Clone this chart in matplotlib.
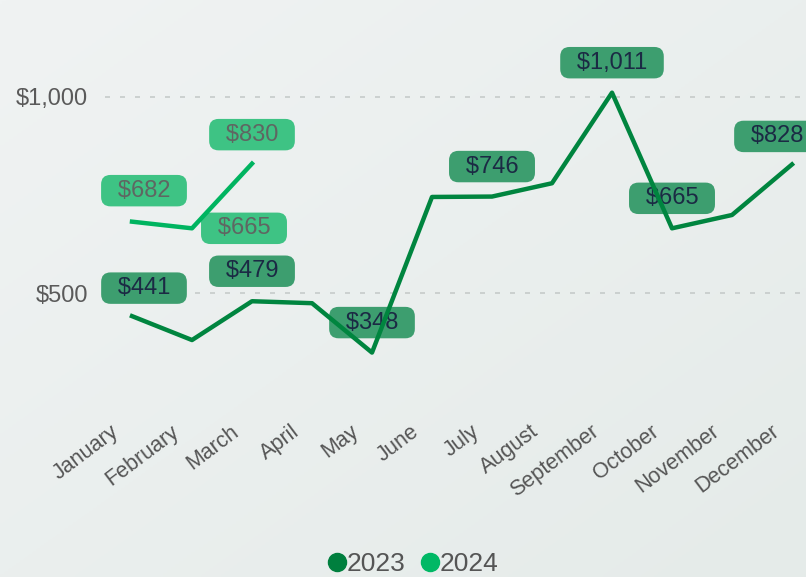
import numpy as np
import matplotlib.pyplot as plt
from matplotlib.lines import Line2D
from matplotlib.colors import LinearSegmentedColormap
from matplotlib.transforms import ScaledTranslation

plt.rcParams['font.family'] = ['Liberation Sans', 'DejaVu Sans']

# Data
months = ['January', 'February', 'March', 'April', 'May', 'June', 'July',
          'August', 'September', 'October', 'November', 'December']
sales_2023 = [441, 380, 479, 474, 348, 745, 746, 780, 1011, 665, 699, 828]
sales_2024 = [682, 665, 830]
labeled_2023 = [0, 2, 4, 6, 8, 9, 11]
labeled_2024 = [0, 1, 2]
ytick_vals = [500, 1000]
ytick_text = ['$500', '$1,000']

# Colours
c23 = '#00853f'
c24 = '#00b460'
box23 = '#3d9e6f'
box24 = '#3ec384'
txt23 = '#1b2a44'
txt24 = '#5f6662'

# label offsets in pixels (dx, dy), default is straight above
default_off = (0, 30)
offsets_2023 = {0: (12, 28), 11: (-15, 28)}
offsets_2024 = {0: (12, 31), 1: (52, 0), 2: (0, 29)}

fig = plt.figure(figsize=(8.06, 5.77), dpi=100)

# gradient background
bg = fig.add_axes([0, 0, 1, 1], zorder=-5)
gx, gy = np.meshgrid(np.linspace(0, 1, 200), np.linspace(0, 1, 200))
grad = (gx + gy) / 2
cmap = LinearSegmentedColormap.from_list('bg', ['#f0f3f3', '#e5ebe9'])
bg.imshow(grad, cmap=cmap, aspect='auto', extent=[0, 1, 0, 1], origin='upper')
bg.axis('off')

W, H = 806, 577
ax = fig.add_axes([105 / W, 167 / H, (W - 105) / W, (557 - 167) / H])
ax.patch.set_alpha(0)

x = np.arange(len(months))
ax.plot(x, sales_2023, color=c23, lw=3.2, zorder=4)
ax.plot(x[:len(sales_2024)], sales_2024, color=c24, lw=3.2, zorder=4)

px = 0.72  # pixels -> points at 100 dpi


def add_labels(vals, idx, offs, fc, tc):
    for i in idx:
        dx, dy = offs.get(i, default_off)
        ax.annotate('\u2002${:,}\u2002'.format(vals[i]), (x[i], vals[i]),
                    xytext=(dx * px, dy * px), textcoords='offset points',
                    ha='center', va='center', fontsize=17, color=tc,
                    bbox=dict(boxstyle='round,pad=0.2,rounding_size=0.4', fc=fc, ec='none'),
                    zorder=2, annotation_clip=False)


add_labels(sales_2023, labeled_2023, offsets_2023, box23, txt23)
add_labels(sales_2024, labeled_2024, offsets_2024, box24, txt24)

ax.set_xlim(-0.45, (W - 132) / 60)
ax.set_ylim((167 - 88) / 0.392, (557 - 88) / 0.392)

ax.set_yticks(ytick_vals)
ax.set_yticklabels(ytick_text, fontsize=17, color='#5a5a5a')
ax.yaxis.grid(True, color='#c6cbca', linestyle=(0, (3, 6)), lw=1.2)
ax.set_axisbelow(True)

ax.tick_params(axis='both', length=0)
ax.tick_params(axis='y', pad=12)
ax.tick_params(axis='x', pad=8)
for s in ax.spines.values():
    s.set_visible(False)

ax.set_xticks(x)
ax.set_xticklabels(months, rotation=37, ha='right', fontsize=15.5, color='#555555')
# nudge month labels left (after tick_params, which resets transforms)
shift = ScaledTranslation(-9 / 100, 0, fig.dpi_scale_trans)
for lbl in ax.get_xticklabels():
    lbl.set_transform(lbl.get_transform() + shift)

handles = [Line2D([], [], marker='o', ls='', color='#007f3e', markersize=13),
           Line2D([], [], marker='o', ls='', color='#00b865', markersize=13)]
fig.legend(handles, ['2023', '2024'], loc='center', bbox_to_anchor=(412 / W, 13 / H),
           ncol=2, frameon=False, fontsize=19, handletextpad=-0.1, handlelength=0.9,
           columnspacing=0.5, labelcolor='#555555')

fig.savefig('out.png', dpi=100)
